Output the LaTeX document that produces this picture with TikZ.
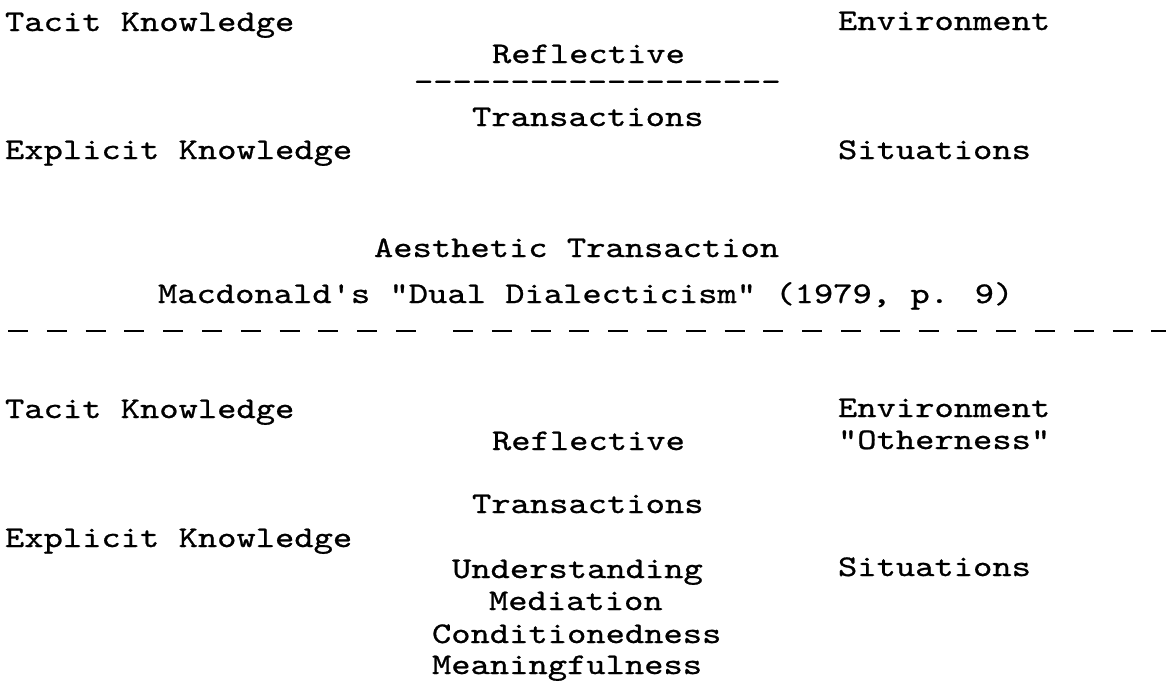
\documentclass[tikz,border=0pt]{standalone}
\usepackage{fontspec}
\newfontfamily\twfont{lmmono10-regular.otf}[FakeStretch=1.225,FakeBold=0.8]
\tikzset{
  lbl/.style={anchor=base west, inner sep=0pt, outer sep=0pt, font=\twfont\fontsize{30}{36}\selectfont},
  rule/.style={line width=2.6pt, dash pattern=on 20pt off 18.8pt}
}
\begin{document}
\begin{tikzpicture}[x=1pt,y=-1pt]
\useasboundingbox (0,0) rectangle (1166,688);
% upper part
\node[lbl] (tk1) at (5,31) {Tacit Knowledge};
\node[lbl] (env1) at (838,30) {Environment};
\node[lbl] (ref1) at (492,63) {Reflective};
\node[lbl] (dash1) at (414,91) {-------------------};
\node[lbl] (tr1) at (472,126) {Transactions};
\node[lbl] (ek1) at (5,159) {Explicit Knowledge};
\node[lbl] (sit1) at (838,159) {Situations};
\node[lbl] (aes) at (374,257) {Aesthetic Transaction};
\node[lbl] (mac) at (158,303) {Macdonald's "Dual Dialecticism" (1979, p. 9)};
% separator
\coordinate (sA) at (8,331);
\coordinate (sB) at (418,331);
\coordinate (sC) at (453,331);
\coordinate (sD) at (1166,331);
\draw[rule] (sA) -- (sB);
\draw[rule] (sC) -- (sD);
% lower part
\node[lbl] (tk2) at (5,418) {Tacit Knowledge};
\node[lbl] (env2) at (838,417) {Environment};
\node[lbl] (oth) at (838,449) {"Otherness"};
\node[lbl] (ref2) at (492,450) {Reflective};
\node[lbl] (tr2) at (472,513) {Transactions};
\node[lbl] (ek2) at (5,547) {Explicit Knowledge};
\node[lbl] (und) at (452,578) {Understanding};
\node[lbl] (sit2) at (838,576) {Situations};
\node[lbl] (med) at (489,610) {Mediation};
\node[lbl] (con) at (432,643) {Conditionedness};
\node[lbl] (mea) at (432,674) {Meaningfulness};
\end{tikzpicture}
\end{document}
